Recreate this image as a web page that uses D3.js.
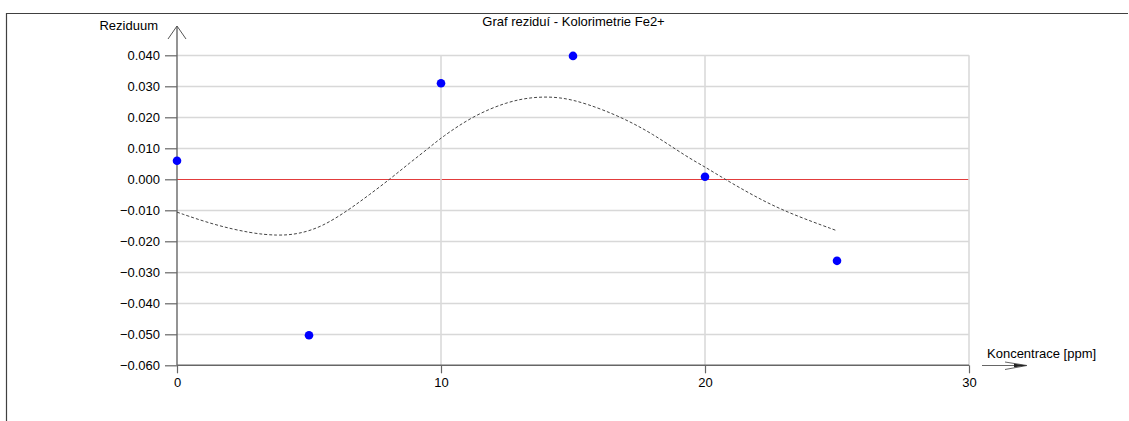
<!DOCTYPE html>
<html>
<head>
<meta charset="utf-8">
<script src="https://cdn.jsdelivr.net/npm/d3@7"></script>
<style>
  html, body { margin: 0; padding: 0; background: #fff; }
  svg { display: block; }
  text { font-family: "Liberation Sans", Arial, sans-serif; fill: #000; }
</style>
</head>
<body>
<svg id="chart" width="1129" height="421"></svg>
<script>
// ---- data ----
const title = "Graf reziduí - Kolorimetrie Fe2+";
const xTitle = "Koncentrace [ppm]";
const yTitle = "Reziduum";
const concentrations = [0, 5, 10, 15, 20, 25];
const residuals = [0.0060, -0.0503, 0.0310, 0.0398, 0.0008, -0.0263];
const fitX = [0, 1.4, 2.8, 3.8, 4.6, 5.5, 6.5, 7.3, 8.1, 8.8, 9.6, 10.0, 11.2, 12.5, 13.5, 14.5, 15.5, 16.8, 18.0, 19.3, 20.0, 20.7, 22.0, 23.2, 25.0];
const fitY = [-0.0106, -0.0147, -0.0174, -0.0182, -0.0177, -0.0153, -0.0099, -0.0049, 0.0003, 0.0052, 0.0105, 0.0134, 0.0204, 0.0250, 0.0266, 0.0266, 0.0245, 0.0202, 0.0148, 0.0073, 0.0040, 0.0003, -0.0061, -0.0110, -0.0166];
const xTicks = [0, 10, 20, 30];
const yTicks = [0.04, 0.03, 0.02, 0.01, 0.0, -0.01, -0.02, -0.03, -0.04, -0.05, -0.06];

// ---- layout ----
const svg = d3.select("#chart");
const x = d3.scaleLinear().domain([0, 30]).range([177, 969]);
const y = d3.scaleLinear().domain([-0.06, 0.04]).range([365.3, 55.3]);
const fmt = d3.format(".3f");

// frame
svg.append("line").attr("x1", 6).attr("x2", 1128).attr("y1", 13.5).attr("y2", 13.5)
  .attr("stroke", "#404040").attr("stroke-width", 1.2);
svg.append("line").attr("x1", 6.5).attr("x2", 6.5).attr("y1", 13).attr("y2", 421)
  .attr("stroke", "#404040").attr("stroke-width", 1.2);

// horizontal grid
svg.append("g").selectAll("line").data(yTicks.filter(d => d > -0.06))
  .join("line")
  .attr("x1", x(0)).attr("x2", x(30))
  .attr("y1", d => Math.round(y(d)) + 0.5).attr("y2", d => Math.round(y(d)) + 0.5)
  .attr("stroke", d => Math.abs(d) < 1e-9 ? "#e23c3c" : "#d8d8d8")
  .attr("stroke-width", d => Math.abs(d) < 1e-9 ? 1 : 1.3);

// vertical grid
svg.append("g").selectAll("line").data(xTicks.filter(d => d > 0))
  .join("line")
  .attr("x1", d => x(d)).attr("x2", d => x(d))
  .attr("y1", y(0.04)).attr("y2", y(-0.06))
  .attr("stroke", "#dadada").attr("stroke-width", 1.6);

// y axis
const yAxis = d3.axisLeft(y).tickValues(yTicks).tickFormat(fmt).tickSize(12).tickPadding(5);
const gy = svg.append("g").attr("transform", `translate(${x(0)},0)`).call(yAxis);
gy.select(".domain").remove();
gy.selectAll(".tick line").attr("stroke", "#666").attr("stroke-width", 1.2);
gy.selectAll(".tick text").style("font-size", "13px").style("font-family", "Liberation Sans, Arial, sans-serif").attr("fill", "#000");
svg.append("line").attr("x1", x(0)).attr("x2", x(0)).attr("y1", 26).attr("y2", y(-0.06))
  .attr("stroke", "#666").attr("stroke-width", 1.4);
svg.append("path").attr("d", `M${x(0) - 9},39 L${x(0)},26 L${x(0) + 9},39`)
  .attr("fill", "none").attr("stroke", "#555").attr("stroke-width", 1);

// x axis
const xAxis = d3.axisBottom(x).tickValues(xTicks).tickFormat(d3.format("d")).tickSize(8).tickPadding(4);
const gx = svg.append("g").attr("transform", `translate(0,${y(-0.06)})`).call(xAxis);
gx.select(".domain").remove();
gx.selectAll(".tick line").attr("stroke", "#666").attr("stroke-width", 1.2);
gx.selectAll(".tick text").style("font-size", "13px").style("font-family", "Liberation Sans, Arial, sans-serif").attr("fill", "#000");
svg.append("line").attr("x1", x(0)).attr("x2", x(30)).attr("y1", y(-0.06)).attr("y2", y(-0.06))
  .attr("stroke", "#666").attr("stroke-width", 1.4);
// x arrow
svg.append("line").attr("x1", 982).attr("x2", 1026).attr("y1", 365.5).attr("y2", 365.5)
  .attr("stroke", "#666").attr("stroke-width", 1);
svg.append("path").attr("d", "M1005,362 L1027,365.5 L1005,369.5")
  .attr("fill", "none").attr("stroke", "#555").attr("stroke-width", 0.9);
svg.append("path").attr("d", "M1014,363.8 L1027,365.5 L1014,367.3 Z")
  .attr("fill", "#222").attr("stroke", "none");

// fit curve
const line = d3.line().x((d, i) => x(fitX[i])).y((d, i) => y(fitY[i])).curve(d3.curveBasis);
svg.append("path").datum(fitY).attr("d", line)
  .attr("fill", "none").attr("stroke", "#444").attr("stroke-width", 1)
  .attr("stroke-dasharray", "3,2");

// points
svg.append("g").selectAll("circle").data(residuals).join("circle")
  .attr("cx", (d, i) => x(concentrations[i])).attr("cy", d => y(d))
  .attr("r", 4.3).attr("fill", "#0000ff");

// texts
svg.append("text").attr("x", 573.5).attr("y", 26).attr("text-anchor", "middle")
  .style("font-size", "13px").text(title);
svg.append("text").attr("x", 158).attr("y", 30).attr("text-anchor", "end")
  .style("font-size", "13px").text(yTitle);
svg.append("text").attr("x", 987).attr("y", 358)
  .style("font-size", "13px").text(xTitle);
</script>
</body>
</html>
